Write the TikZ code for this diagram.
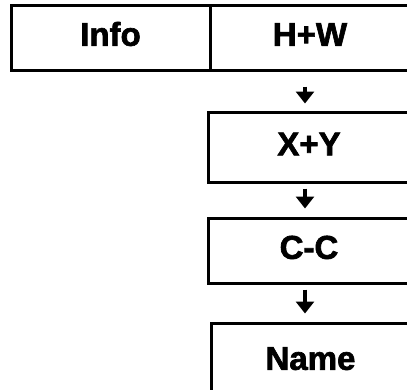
\documentclass[tikz,border=0pt]{standalone}
\usepackage{fontspec}
\setmainfont{Liberation Sans}[BoldFeatures={FakeBold=2}]
\usetikzlibrary{arrows.meta}
\begin{document}
\begin{tikzpicture}[x=1pt,y=-1pt,
  box/.style={draw=black,line width=3pt,inner sep=0pt,
    font=\bfseries\fontsize{33}{33}\selectfont,
    text height=23.6pt,text depth=7pt,anchor=center},
  arr/.style={line width=4.5pt,-{Triangle[width=18pt,length=12pt]}}]
\useasboundingbox (0,0) rectangle (407,389);
\fill[white] (0,0) rectangle (407,389);
\node[box,minimum width=199pt,minimum height=65pt] (info) at (110.5,37.5) {Info};
\node[box,minimum width=200pt,minimum height=65pt] (hw) at (310,37.5) {H+W};
\node[box,minimum width=202pt,minimum height=70pt] (xy) at (309,147) {X+Y};
\node[box,minimum width=202pt,minimum height=65pt] (cc) at (309,250.5) {C-C};
\node[box,minimum width=199pt,minimum height=77pt] (name) at (310.5,361.5) {Name};
\draw[arr,shorten <=15pt,shorten >=7pt] ([xshift=-5pt]hw.south) -- ([xshift=-5pt]hw.south |- xy.north);
\draw[arr,shorten <=5pt,shorten >=8pt] ([xshift=-4pt]xy.south) -- ([xshift=-4pt]xy.south |- cc.north);
\draw[arr,shorten <=5pt,shorten >=8pt] ([xshift=-4pt]cc.south) -- ([xshift=-4pt]cc.south |- name.north);
\end{tikzpicture}
\end{document}
